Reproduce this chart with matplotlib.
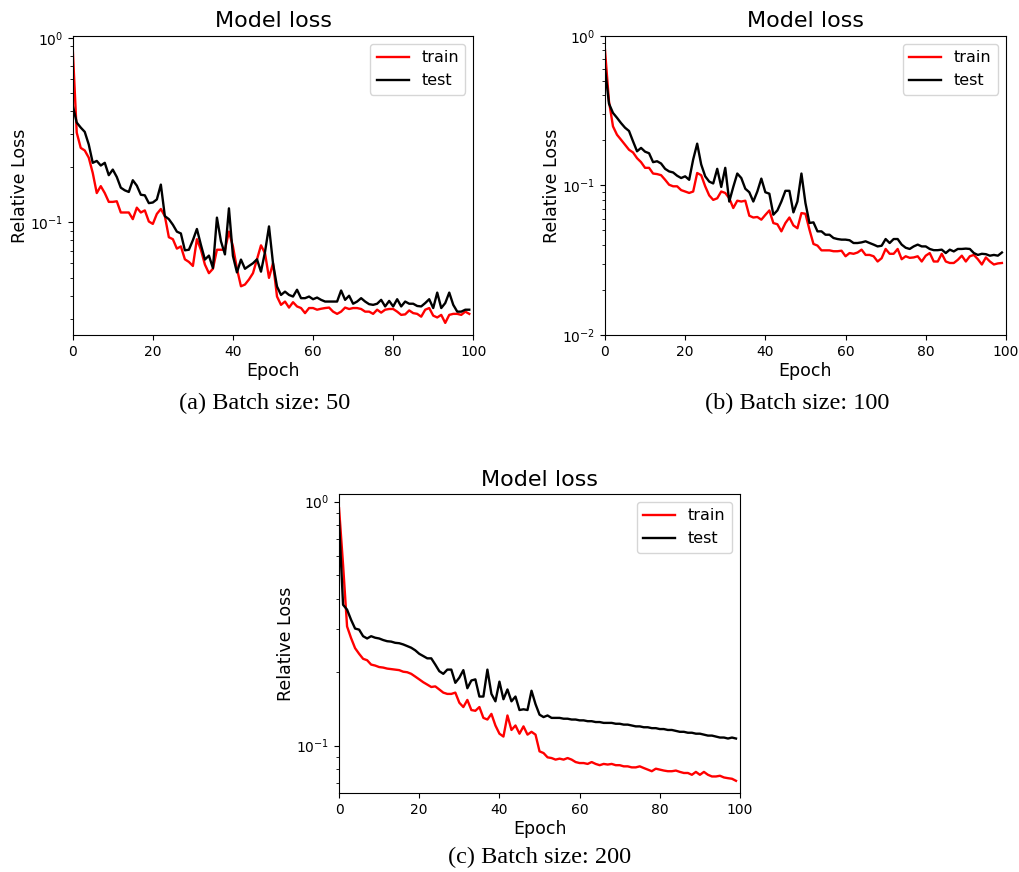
import matplotlib
matplotlib.use("Agg")
import matplotlib.pyplot as plt

epochs = list(range(100))

# (a) batch size 50
train_50 = [
    0.875, 0.306, 0.253, 0.245, 0.224, 0.185, 0.144, 0.157, 0.144, 0.129,
    0.129, 0.130, 0.113, 0.113, 0.113, 0.104, 0.120, 0.113, 0.116, 0.101,
    0.098, 0.111, 0.118, 0.108, 0.083, 0.081, 0.072, 0.074, 0.063, 0.061,
    0.058, 0.081, 0.071, 0.059, 0.053, 0.056, 0.071, 0.071, 0.071, 0.089,
    0.074, 0.056, 0.045, 0.046, 0.049, 0.053, 0.063, 0.075, 0.068, 0.050,
    0.060, 0.0396, 0.0357, 0.0372, 0.0345, 0.0369, 0.0350, 0.0343, 0.0322, 0.0343,
    0.0343, 0.0336, 0.0340, 0.0343, 0.0345, 0.0328, 0.0319, 0.0328, 0.0345, 0.0339,
    0.0343, 0.0343, 0.0339, 0.0328, 0.0328, 0.0319, 0.0336, 0.0324, 0.0336, 0.0339,
    0.0339, 0.0328, 0.0315, 0.0317, 0.0333, 0.0322, 0.0319, 0.0308, 0.0336, 0.0343,
    0.0312, 0.0305, 0.0315, 0.0285, 0.0315, 0.0319, 0.0319, 0.0315, 0.0328, 0.0319,
]
test_50 = [
    0.430, 0.347, 0.326, 0.309, 0.264, 0.210, 0.215, 0.203, 0.210, 0.180,
    0.193, 0.176, 0.154, 0.149, 0.146, 0.169, 0.158, 0.141, 0.140, 0.127,
    0.128, 0.133, 0.160, 0.108, 0.104, 0.097, 0.089, 0.087, 0.0705, 0.071,
    0.080, 0.092, 0.0755, 0.0628, 0.066, 0.0565, 0.106, 0.079, 0.067, 0.119,
    0.0657, 0.0535, 0.0628, 0.056, 0.058, 0.060, 0.063, 0.054, 0.069, 0.095,
    0.060, 0.0449, 0.0404, 0.0421, 0.0404, 0.0396, 0.0431, 0.0388, 0.0388, 0.0396,
    0.0383, 0.0391, 0.0380, 0.0372, 0.0372, 0.0372, 0.0372, 0.0427, 0.0380, 0.0400,
    0.0362, 0.0372, 0.0388, 0.0372, 0.0360, 0.0357, 0.0362, 0.0380, 0.0350, 0.0375,
    0.0350, 0.0383, 0.0350, 0.0372, 0.0362, 0.0362, 0.0352, 0.0350, 0.0365, 0.0383,
    0.0343, 0.0416, 0.0343, 0.0365, 0.0416, 0.0357, 0.0328, 0.0328, 0.0336, 0.0336,
]

# (b) batch size 100
train_100 = [
    0.807, 0.365, 0.248, 0.218, 0.202, 0.187, 0.173, 0.166, 0.152, 0.143,
    0.131, 0.131, 0.120, 0.119, 0.117, 0.109, 0.101, 0.0986, 0.0986, 0.093,
    0.091, 0.089, 0.091, 0.121, 0.117, 0.0986, 0.0857, 0.080, 0.082, 0.091,
    0.089, 0.082, 0.0706, 0.079, 0.078, 0.079, 0.0627, 0.061, 0.0615, 0.059,
    0.0635, 0.068, 0.056, 0.055, 0.0493, 0.056, 0.061, 0.054, 0.0517, 0.0653,
    0.0646, 0.0506, 0.0406, 0.0396, 0.0368, 0.0368, 0.0368, 0.0363, 0.0363, 0.0366,
    0.0336, 0.0353, 0.0349, 0.0356, 0.0372, 0.0343, 0.0343, 0.0336, 0.0310, 0.0326,
    0.0376, 0.0349, 0.0349, 0.0376, 0.0321, 0.0336, 0.0328, 0.0330, 0.0336, 0.0310,
    0.0339, 0.0353, 0.0310, 0.0310, 0.0349, 0.0310, 0.0303, 0.0303, 0.0318, 0.0339,
    0.0310, 0.0336, 0.0343, 0.0321, 0.0296, 0.0330, 0.0310, 0.0296, 0.0301, 0.0303,
]
test_100 = [
    0.610, 0.352, 0.305, 0.283, 0.261, 0.243, 0.231, 0.197, 0.169, 0.178,
    0.168, 0.164, 0.143, 0.145, 0.140, 0.129, 0.124, 0.122, 0.116, 0.112,
    0.115, 0.109, 0.149, 0.190, 0.138, 0.115, 0.106, 0.103, 0.129, 0.0976,
    0.131, 0.078, 0.0976, 0.120, 0.112, 0.095, 0.090, 0.078, 0.091, 0.111,
    0.090, 0.088, 0.0637, 0.068, 0.078, 0.092, 0.092, 0.066, 0.078, 0.120,
    0.0762, 0.0561, 0.0566, 0.0493, 0.0493, 0.0468, 0.0468, 0.0445, 0.0438, 0.0434,
    0.0434, 0.0430, 0.0412, 0.0412, 0.0416, 0.0423, 0.0412, 0.0402, 0.0391, 0.0395,
    0.0438, 0.0412, 0.0438, 0.0438, 0.0402, 0.0383, 0.0376, 0.0391, 0.0402, 0.0391,
    0.0391, 0.0376, 0.0369, 0.0369, 0.0372, 0.0353, 0.0372, 0.0362, 0.0376, 0.0376,
    0.0378, 0.0376, 0.0353, 0.0343, 0.0349, 0.0347, 0.0339, 0.0343, 0.0339, 0.0356,
]

# (c) batch size 200
train_200 = [
    0.940, 0.552, 0.308, 0.276, 0.251, 0.238, 0.227, 0.224, 0.215, 0.213,
    0.210, 0.209, 0.207, 0.206, 0.205, 0.204, 0.201, 0.200, 0.197, 0.192,
    0.187, 0.182, 0.178, 0.174, 0.175, 0.170, 0.165, 0.163, 0.163, 0.165,
    0.150, 0.144, 0.154, 0.140, 0.139, 0.144, 0.130, 0.128, 0.135, 0.121,
    0.112, 0.109, 0.133, 0.116, 0.121, 0.112, 0.120, 0.111, 0.114, 0.111,
    0.0948, 0.0933, 0.0896, 0.0890, 0.0877, 0.0885, 0.0877, 0.0890, 0.0877, 0.0857,
    0.0849, 0.0849, 0.0842, 0.0857, 0.0842, 0.0832, 0.0842, 0.0837, 0.0842, 0.0832,
    0.0832, 0.0823, 0.0823, 0.0815, 0.0815, 0.0823, 0.0810, 0.0798, 0.0786, 0.0805,
    0.0798, 0.0791, 0.0786, 0.0786, 0.0791, 0.0781, 0.0773, 0.0773, 0.0760, 0.0781,
    0.0760, 0.0781, 0.0760, 0.0748, 0.0748, 0.0753, 0.0741, 0.0736, 0.0732, 0.0718,
]
test_200 = [
    0.830, 0.378, 0.361, 0.328, 0.302, 0.299, 0.281, 0.275, 0.281, 0.277,
    0.275, 0.271, 0.268, 0.267, 0.264, 0.263, 0.260, 0.256, 0.252, 0.246,
    0.238, 0.233, 0.228, 0.228, 0.215, 0.202, 0.197, 0.205, 0.205, 0.181,
    0.190, 0.204, 0.172, 0.185, 0.187, 0.159, 0.159, 0.205, 0.163, 0.152,
    0.183, 0.155, 0.170, 0.152, 0.159, 0.140, 0.141, 0.140, 0.168, 0.148,
    0.134, 0.131, 0.133, 0.130, 0.130, 0.130, 0.129, 0.129, 0.128, 0.128,
    0.127, 0.127, 0.126, 0.126, 0.125, 0.125, 0.124, 0.124, 0.124, 0.123,
    0.123, 0.122, 0.122, 0.121, 0.120, 0.120, 0.119, 0.119, 0.118, 0.118,
    0.117, 0.117, 0.116, 0.116, 0.115, 0.114, 0.114, 0.113, 0.113, 0.112,
    0.112, 0.111, 0.110, 0.110, 0.109, 0.108, 0.108, 0.107, 0.108, 0.107,
]

captions = ["(a) Batch size: 50", "(b) Batch size: 100", "(c) Batch size: 200"]
ylims = [(0.0245, 1.025), (0.01, 1.0), (0.064, 1.075)]


def plot_loss(ax, train, test, ylim):
    ax.plot(epochs, train, color="red", lw=1.7, label="train")
    ax.plot(epochs, test, color="black", lw=1.7, label="test")
    ax.set_yscale("log")
    ax.set_xlim(0, 100)
    ax.set_ylim(*ylim)
    ax.set_title("Model loss", fontsize=16)
    ax.set_xlabel("Epoch", fontsize=12.5, labelpad=2.5)
    ax.set_ylabel("Relative Loss", fontsize=12.5, labelpad=0.5)
    ax.tick_params(labelsize=10)
    ax.legend(loc="upper right", fontsize=11.5)


fig = plt.figure(figsize=(10.2, 8.72), dpi=100)
ax_a = fig.add_axes([0.0713, 0.6158, 0.3927, 0.3432])
ax_b = fig.add_axes([0.5931, 0.6158, 0.3931, 0.3432])
ax_c = fig.add_axes([0.3324, 0.0906, 0.3931, 0.3429])

plot_loss(ax_a, train_50, test_50, ylims[0])
plot_loss(ax_b, train_100, test_100, ylims[1])
plot_loss(ax_c, train_200, test_200, ylims[2])

cap_font = dict(fontsize=17.5, family="Liberation Serif", ha="center", va="center")
fig.text(265 / 1020, 1 - 403 / 872, captions[0], **cap_font)
fig.text(797 / 1020, 1 - 403 / 872, captions[1], **cap_font)
fig.text(540 / 1020, 1 - 857 / 872, captions[2], **cap_font)

fig.savefig("out.png", dpi=100)
